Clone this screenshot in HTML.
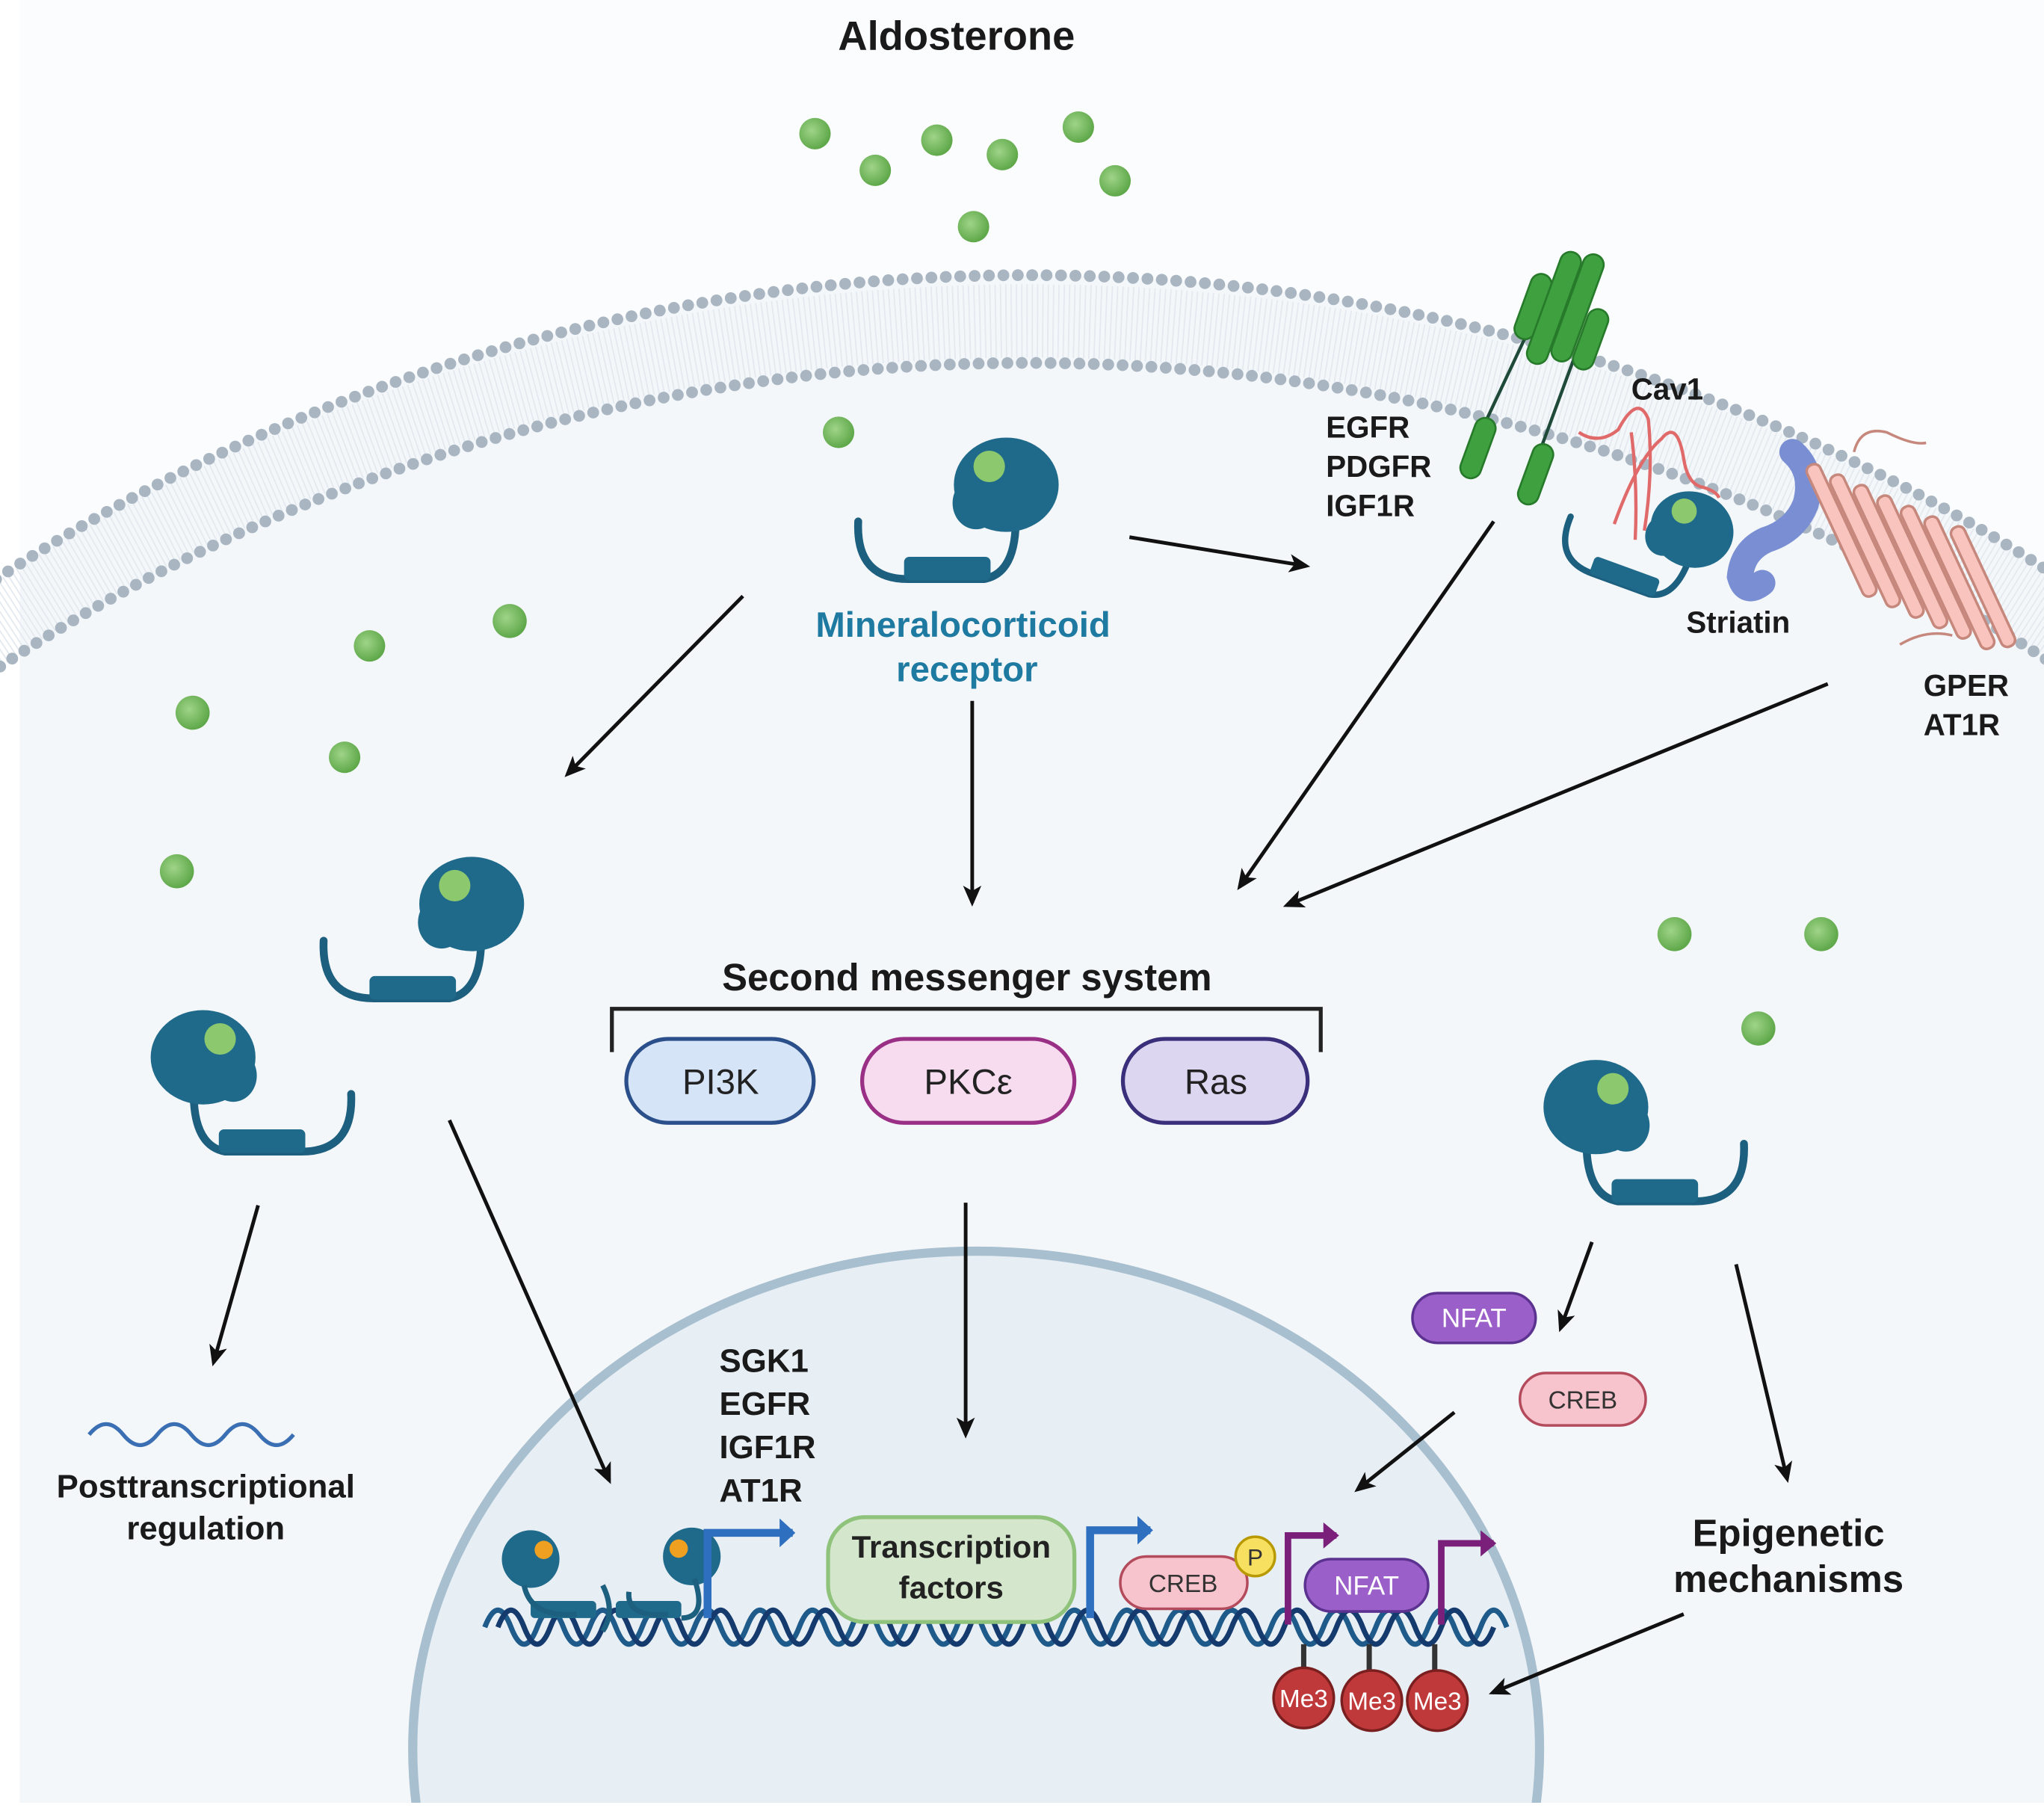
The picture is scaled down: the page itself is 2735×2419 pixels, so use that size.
<!DOCTYPE html>
<html><head><meta charset="utf-8"><style>
html,body{margin:0;padding:0;background:#fff;overflow:hidden;width:2735px;height:2419px}
svg{display:block}
text{font-family:"Liberation Sans",sans-serif}
</style></head><body>
<svg width="2735" height="2419" viewBox="0 0 1560 1380" preserveAspectRatio="none" xmlns="http://www.w3.org/2000/svg">
<defs>
<marker id="ah" markerWidth="16" markerHeight="14" refX="13" refY="7" orient="auto" markerUnits="userSpaceOnUse"><path d="M0,0 L16,7 L0,14 L4,7 Z" fill="#111"/></marker>
<marker id="ahb" markerWidth="22" markerHeight="22" refX="10" refY="11" orient="auto" markerUnits="userSpaceOnUse"><path d="M0,0 L12,11 L0,22 Z" fill="#2f6fbf"/></marker>
<marker id="ahp" markerWidth="22" markerHeight="20" refX="10" refY="10" orient="auto" markerUnits="userSpaceOnUse"><path d="M0,0 L12,10 L0,20 Z" fill="#7a1f7a"/></marker>
<radialGradient id="gd" cx="0.4" cy="0.4" r="0.6"><stop offset="0" stop-color="#9fd488"/><stop offset="1" stop-color="#5fa84a"/></radialGradient>
<g id="mr">
 <path d="M-68,-36 Q-70,8 -30,8 L28,8 Q50,4 52,-30" fill="none" stroke="#1d5f7e" stroke-width="6" stroke-linecap="round"/>
 <rect x="-33" y="-9" width="66" height="18" rx="4" fill="#1f6a8a"/>
 <ellipse cx="45" cy="-64" rx="40" ry="36" fill="#1f6a8a"/>
 <ellipse cx="22" cy="-50" rx="18" ry="20" fill="#1f6a8a"/>
 <circle cx="32" cy="-78" r="12" fill="#8cc86e"/>
</g>
</defs>
<rect width="1560" height="1380" fill="#fbfcfd"/>
<ellipse cx="785" cy="1400" rx="1328" ry="1190" fill="#f4f7fa"/>
<rect x="0" y="0" width="15" height="1380" fill="#fff"/>
<ellipse cx="785" cy="1400" rx="1310" ry="1155" fill="none" stroke="#e3e9ef" stroke-width="56" stroke-dasharray="1 3"/>
<ellipse cx="785" cy="1400" rx="1328" ry="1190" fill="none" stroke="#a9b6c2" stroke-width="9" stroke-dasharray="0 11" stroke-linecap="round"/>
<ellipse cx="785" cy="1400" rx="1290" ry="1123" fill="none" stroke="#a9b6c2" stroke-width="9" stroke-dasharray="0 11" stroke-linecap="round"/>
<ellipse cx="745" cy="1335" rx="430" ry="380" fill="#e7eef4" stroke="#a8bfcf" stroke-width="7"/>
<rect x="0" y="1376" width="1560" height="4" fill="#fff"/>

<text x="730" y="38" font-size="31" font-weight="bold" text-anchor="middle" fill="#1a1a1a">Aldosterone</text>

<g fill="url(#gd)">
<circle cx="622" cy="102" r="12"/><circle cx="668" cy="130" r="12"/><circle cx="715" cy="107" r="12"/><circle cx="765" cy="118" r="12"/><circle cx="823" cy="97" r="12"/><circle cx="851" cy="138" r="12"/><circle cx="743" cy="173" r="12"/><circle cx="640" cy="330" r="12"/><circle cx="389" cy="474" r="13"/><circle cx="282" cy="493" r="12"/><circle cx="147" cy="544" r="13"/><circle cx="263" cy="578" r="12"/><circle cx="135" cy="665" r="13"/><circle cx="1278" cy="713" r="13"/><circle cx="1390" cy="713" r="13"/><circle cx="1342" cy="785" r="13"/>
</g>

<g fill="#3fa040" stroke="#267a2a" stroke-width="1.5">
<line x1="1170" y1="245" x2="1130" y2="330" stroke="#1f4a3a" stroke-width="2.5"/>
<line x1="1210" y1="250" x2="1175" y2="345" stroke="#1f4a3a" stroke-width="2.5"/>
<rect x="1162" y="208" width="16" height="52" rx="8" transform="rotate(20 1170 234)"/>
<rect x="1178" y="190" width="16" height="90" rx="8" transform="rotate(20 1186 235)"/>
<rect x="1196" y="192" width="16" height="86" rx="8" transform="rotate(20 1204 235)"/>
<rect x="1206" y="235" width="16" height="48" rx="8" transform="rotate(20 1214 259)"/>
<rect x="1120" y="318" width="16" height="48" rx="8" transform="rotate(20 1128 342)"/>
<rect x="1164" y="338" width="16" height="48" rx="8" transform="rotate(20 1172 362)"/>
</g>
<g fill="none" stroke="#e06a6a" stroke-width="2.5">
<path d="M1205,330 Q1220,340 1235,328 Q1250,300 1258,320 Q1262,360 1255,405"/>
<path d="M1232,400 Q1250,350 1268,335 Q1280,320 1285,350 Q1288,370 1300,372 Q1310,375 1312,380"/>
<path d="M1245,330 Q1250,370 1248,412"/>
</g>
<path d="M1368,345 Q1385,360 1378,385 Q1370,405 1348,412 Q1330,420 1328,440 Q1332,455 1345,445" fill="none" stroke="#7a8fd3" stroke-width="20" stroke-linecap="round"/>
<g stroke="#c6877c" stroke-width="2" fill="#f8c4bd">
<path d="M1415,345 Q1420,325 1440,330 Q1460,340 1470,338" fill="none"/>
<path d="M1450,492 Q1470,480 1490,485" fill="none"/>
<rect x="1400" y="350" width="11" height="110" rx="5" transform="rotate(-25 1405 405)"/>
<rect x="1418" y="358" width="11" height="110" rx="5" transform="rotate(-25 1423 413)"/>
<rect x="1436" y="366" width="11" height="110" rx="5" transform="rotate(-25 1441 421)"/>
<rect x="1454" y="374" width="11" height="110" rx="5" transform="rotate(-25 1459 429)"/>
<rect x="1472" y="382" width="11" height="110" rx="5" transform="rotate(-25 1477 437)"/>
<rect x="1490" y="390" width="11" height="110" rx="5" transform="rotate(-25 1495 445)"/>
<rect x="1508" y="398" width="11" height="100" rx="5" transform="rotate(-25 1513 448)"/>
</g>

<use href="#mr" transform="translate(723,434)"/>
<use href="#mr" transform="translate(315,754)"/>
<use href="#mr" transform="translate(200,871) scale(-1,1)"/>
<use href="#mr" transform="translate(1263,909) scale(-1,1)"/>
<use href="#mr" transform="translate(1240,440) rotate(20) scale(0.8)"/>

<g font-weight="bold" fill="#1a1a1a" font-size="23">
<text x="1012" y="334">EGFR</text><text x="1012" y="364">PDGFR</text><text x="1012" y="394">IGF1R</text>
<text x="1245" y="305">Cav1</text>
<text x="1287" y="483">Striatin</text>
<text x="1468" y="531">GPER</text><text x="1468" y="561">AT1R</text>
<text x="549" y="1047" font-size="25">SGK1</text><text x="549" y="1080" font-size="25">EGFR</text><text x="549" y="1113" font-size="25">IGF1R</text><text x="549" y="1146" font-size="25">AT1R</text>
<text x="157" y="1143" font-size="25" text-anchor="middle">Posttranscriptional</text>
<text x="157" y="1175" font-size="25" text-anchor="middle">regulation</text>
<text x="1365" y="1180" font-size="29" text-anchor="middle">Epigenetic</text>
<text x="1365" y="1215" font-size="29" text-anchor="middle">mechanisms</text>
<text x="738" y="756" font-size="29" text-anchor="middle">Second messenger system</text>
</g>
<text x="735" y="486" font-size="27" font-weight="bold" fill="#1e7aa0" text-anchor="middle">Mineralocorticoid</text>
<text x="738" y="520" font-size="27" font-weight="bold" fill="#1e7aa0" text-anchor="middle">receptor</text>

<path d="M467,803 L467,770 L1008,770 L1008,803" fill="none" stroke="#222" stroke-width="3"/>
<rect x="478" y="793" width="143" height="64" rx="32" fill="#d6e4f7" stroke="#2a4f8a" stroke-width="3"/>
<rect x="658" y="793" width="162" height="64" rx="32" fill="#f7dcf0" stroke="#9a2f86" stroke-width="3"/>
<rect x="857" y="793" width="141" height="64" rx="32" fill="#ddd6f0" stroke="#3a2f7a" stroke-width="3"/>
<g font-size="27" fill="#222" text-anchor="middle"><text x="550" y="835">PI3K</text><text x="739" y="835">PKCε</text><text x="928" y="835">Ras</text></g>

<g stroke="#111" stroke-width="2.8" marker-end="url(#ah)" fill="none">
<line x1="862" y1="410" x2="997" y2="432"/>
<line x1="567" y1="455" x2="433" y2="591"/>
<line x1="742" y1="535" x2="742" y2="689"/>
<line x1="1140" y1="398" x2="946" y2="677"/>
<line x1="1395" y1="522" x2="982" y2="691"/>
<line x1="197" y1="920" x2="163" y2="1040"/>
<line x1="343" y1="855" x2="465" y2="1130"/>
<line x1="737" y1="918" x2="737" y2="1095"/>
<line x1="1215" y1="948" x2="1191" y2="1014"/>
<line x1="1325" y1="965" x2="1364" y2="1129"/>
<line x1="1110" y1="1078" x2="1036" y2="1137"/>
<line x1="1285" y1="1232" x2="1139" y2="1292"/>
</g>

<path d="M68,1095 q13,-16 26,0 t26,0 t26,0 t26,0 t26,0 t26,0" fill="none" stroke="#3b6fb3" stroke-width="3"/>

<path d="M370,1242 q10,-26 20,0 t20,0 t20,0 t20,0 t20,0 t20,0 t20,0 t20,0 t20,0 t20,0 t20,0 t20,0 t20,0 t20,0 t20,0 t20,0 t20,0 t20,0 t20,0 t20,0 t20,0 t20,0 t20,0 t20,0 t20,0 t20,0 t20,0 t20,0 t20,0 t20,0 t20,0 t20,0 t20,0 t20,0 t20,0 t20,0 t20,0 t20,0 t20,0" fill="none" stroke="#1e5a8a" stroke-width="4"/>
<path d="M380,1242 q10,-26 20,0 t20,0 t20,0 t20,0 t20,0 t20,0 t20,0 t20,0 t20,0 t20,0 t20,0 t20,0 t20,0 t20,0 t20,0 t20,0 t20,0 t20,0 t20,0 t20,0 t20,0 t20,0 t20,0 t20,0 t20,0 t20,0 t20,0 t20,0 t20,0 t20,0 t20,0 t20,0 t20,0 t20,0 t20,0 t20,0 t20,0 t20,0" fill="none" stroke="#153a6e" stroke-width="4"/>

<g fill="#1f6a8a">
<rect x="405" y="1222" width="50" height="13" rx="3"/><rect x="470" y="1222" width="50" height="13" rx="3"/>
<circle cx="405" cy="1190" r="22"/><circle cx="528" cy="1188" r="22"/>
</g>
<path d="M400,1210 Q405,1235 440,1232 M460,1210 Q470,1230 460,1245 M480,1215 Q478,1235 510,1232 M530,1205 Q540,1235 520,1235" fill="none" stroke="#1d5f7e" stroke-width="4"/>
<circle cx="415" cy="1183" r="7" fill="#f0a020"/><circle cx="518" cy="1182" r="7" fill="#f0a020"/>

<g fill="none" stroke-width="6">
<path d="M540,1235 L540,1170 L605,1170" stroke="#2f6fbf" marker-end="url(#ahb)"/>
<path d="M832,1235 L832,1168 L878,1168" stroke="#2f6fbf" marker-end="url(#ahb)"/>
<path d="M983,1240 L983,1172 L1020,1172" stroke="#7a1f7a" stroke-width="5" marker-end="url(#ahp)"/>
<path d="M1100,1240 L1100,1178 L1140,1178" stroke="#7a1f7a" stroke-width="5" marker-end="url(#ahp)"/>
</g>

<rect x="632" y="1158" width="188" height="80" rx="28" fill="#d4e7cc" stroke="#8fc27a" stroke-width="3"/>
<text x="726" y="1189" font-size="24" font-weight="bold" text-anchor="middle" fill="#222">Transcription</text>
<text x="726" y="1220" font-size="24" font-weight="bold" text-anchor="middle" fill="#222">factors</text>

<rect x="855" y="1188" width="97" height="40" rx="20" fill="#f7c3cc" stroke="#b34b5c" stroke-width="2"/>
<text x="903" y="1215" font-size="19" text-anchor="middle" fill="#333">CREB</text>
<circle cx="958" cy="1188" r="15" fill="#f7e060" stroke="#b89a00" stroke-width="2"/>
<text x="958" y="1195" font-size="18" text-anchor="middle" fill="#333">P</text>
<rect x="996" y="1190" width="94" height="40" rx="20" fill="#9a5fc9" stroke="#5c3290" stroke-width="2"/>
<text x="1043" y="1217" font-size="20" text-anchor="middle" fill="#fff">NFAT</text>

<rect x="1078" y="987" width="94" height="38" rx="19" fill="#9a5fc9" stroke="#5c3290" stroke-width="2"/>
<text x="1125" y="1013" font-size="20" text-anchor="middle" fill="#fff">NFAT</text>
<rect x="1160" y="1048" width="96" height="40" rx="20" fill="#f7c3cc" stroke="#b34b5c" stroke-width="2"/>
<text x="1208" y="1075" font-size="19" text-anchor="middle" fill="#333">CREB</text>

<g stroke="#333" stroke-width="4"><line x1="995" y1="1255" x2="995" y2="1275"/><line x1="1045" y1="1255" x2="1045" y2="1278"/><line x1="1095" y1="1255" x2="1095" y2="1278"/></g>
<g fill="#c0393a" stroke="#7a1f1f" stroke-width="2">
<circle cx="995" cy="1296" r="23"/><circle cx="1047" cy="1298" r="23"/><circle cx="1097" cy="1298" r="23"/></g>
<g font-size="19" fill="#fff" text-anchor="middle"><text x="995" y="1303">Me3</text><text x="1047" y="1305">Me3</text><text x="1097" y="1305">Me3</text></g>
</svg>
</body></html>
